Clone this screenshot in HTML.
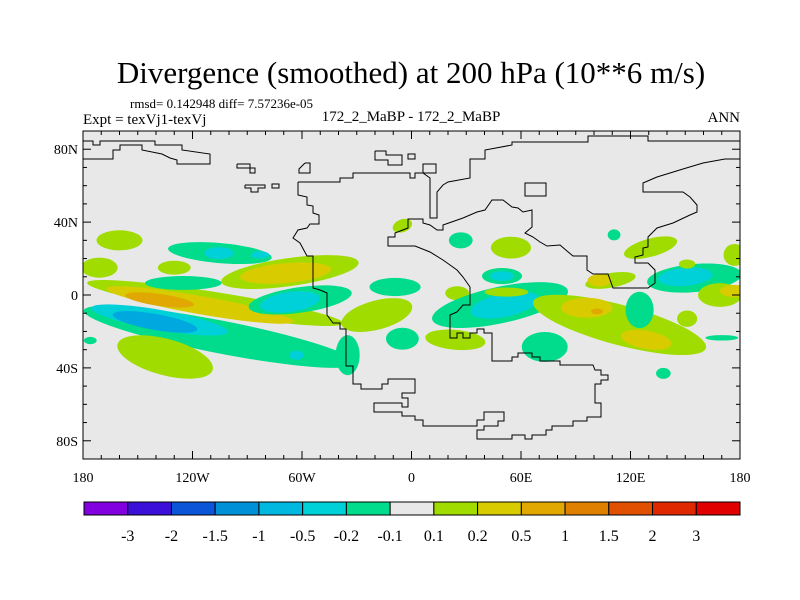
<!DOCTYPE html>
<html><head><meta charset="utf-8"><style>
body{margin:0;background:#fff;}
svg{display:block;font-family:"Liberation Serif",serif;}
</style></head><body>
<svg id="chart" width="800" height="600" viewBox="0 0 800 600">
<rect width="800" height="600" fill="#fff"/>
<text x="411" y="83" font-size="31" text-anchor="middle">Divergence (smoothed) at 200 hPa (10**6 m/s)</text>
<text x="130" y="108" font-size="13">rmsd= 0.142948 diff= 7.57236e-05</text>
<text x="83" y="124" font-size="15">Expt = texVj1-texVj</text>
<text x="411" y="121" font-size="15" text-anchor="middle">172_2_MaBP - 172_2_MaBP</text>
<text x="740" y="122" font-size="15" text-anchor="end">ANN</text>
<defs><clipPath id="pc"><rect x="83" y="131" width="657" height="328"/></clipPath></defs>
<rect x="83" y="131" width="657" height="328" fill="#e8e8e8"/>
<g id="blobs" clip-path="url(#pc)"></g>
<g clip-path="url(#pc)" fill="none" stroke="#000" stroke-width="1">
<polyline points="298,182 298,195 307,197 307,205 313,206 313,213 319,215 319,224 310,224 307,228 298,230 293,238 300,243 307,256 313,256 313,288 320,290 327,293 327,315 333,323 340,323 340,329 346,329 346,366 353,366 353,384 361,384 361,389 382,389 382,384 388,384 388,379 415,379 415,393 402,393 402,398 408,398 408,407 402,407 402,403 374,403 374,412 402,412 402,416 415,416 415,420 423,420 423,426 477,426 477,420 484,420 484,412 504,412 504,421 498,421 498,426 484,426 484,430 477,430 477,439 512,439 512,435 525,435 525,439 532,439 532,435 546,435 546,430 552,430 552,426 573,426 573,421 587,421 587,417 601,417 601,403 595,403 595,384 601,384 601,380 608,380 608,375 601,375 601,370 595,370 593,365 560,365 560,361 540,361 540,357 532,357 532,353 518,353 518,357 512,357 512,361 492,361 492,333 484,333 484,329 477,329 477,333 470,333 470,338 463,338 463,333 457,333 457,338 450,338 450,315 457,312 463,305 470,305 470,287 463,277 457,270 443,260 430,252 415,246 388,246 388,237 395,237 395,233 408,228 408,219 423,219 423,223 430,225 437,230 443,230 443,225 463,218 477,212 485,210 492,200 503,200 512,207 518,208 523,212 532,210 532,227 525,233 533,237 540,242 547,246 560,245 567,251 573,256 587,256 587,270 593,274 608,274 613,288 648,288 655,283 655,270 648,263 635,263 635,257 643,255 643,248 648,247 648,237 657,228 673,223 690,215 697,212 697,205 690,197 683,192 643,192 643,183 657,177 683,169 703,163 725,159 740,159"/>
<polyline points="298,182 340,182 340,178 353,178 353,173 410,173 410,178 415,178 415,173 423,173 430,178 430,218 437,218 437,192 443,185 448,182 470,178 470,159 485,159 485,150 512,145 512,142 588,142 588,136 648,136 648,141 740,141"/>
<polyline points="83,141 93,141 93,145 100,145 100,141 155,141 155,145 182,145 182,150 210,154 210,164 177,164 177,160 170,158 162,154 142,150 142,145 120,145 120,150 113,150 113,159 83,159"/>
<rect x="525" y="183" width="21" height="13"/>
<polyline points="375,151 386,151 386,155 402,155 402,165 388,165 388,160 375,160 375,151"/>
<rect x="408" y="154" width="7" height="5"/>
<rect x="423" y="164" width="13" height="9"/>
<polyline points="237,164 250,164 250,168 255,168 255,173 250,173 250,168 237,168 237,164"/>
<polyline points="245,185 265,185 265,188 258,188 258,192 251,192 251,188 245,188 245,185"/>
<rect x="272" y="184" width="7" height="4"/>
<polyline points="305,163 310,163 310,173 299,173 299,169 305,163"/>
</g>
<rect x="83" y="131" width="657" height="328" fill="none" stroke="#000" stroke-width="1"/>
<g id="ticks" stroke="#000" stroke-width="1"></g>
<g id="labels" font-size="14"></g>
<g id="colorbar"></g>
</svg>
<script>
const levelKeys=[-3,-2,-1,1,2,3];
const levelColors=["#00a8e0","#00d0d8","#00dc8c","#a0dc00","#d8cc00","#e0a800"];
// blob data: lon, lat, rx(deg), ry(deg), rotation, level
const blobLon=[-105,-35,-138,-140.5,-107.6,-116,-138,-135,-160,-171,-105,-105.5,-83,-125,-130,-66.6,-69,-61,-66.6,-9,-19,-5,25,24,48.5,51,49.6,49.6,52,54.5,114,96,101.6,128.6,73,155,125,150,169,177,151,170,138,177,131,151,109,103,111,27,-5,-176,-63];
const blobLat=[-23,-33,-13.7,-14.8,-4.4,-5.5,-2.7,-34,30,15,23,23,22,6.6,15,12.6,12,-2.7,-3.8,4.4,-11,-24,1,-24.6,-5.5,-5.5,10.4,10.4,1.6,26,-16.4,-7,-9,-24.6,-28.5,9.3,-8.2,10,0,2.2,-13,-23.5,-43,22,26,17,8,8,33,30,38,-25,-33];
const blobRx=[76,6.6,38,23.5,71,52,19,27,12.6,10,28.5,8,5,21,9,38,25,28.5,16.5,14,20,9,6.5,16.5,38,19,11,6.5,12,11,49,14,3.3,14,12.6,26,7.7,15,12,8,5.5,9,4,6,15,4.5,14,6.5,3.5,6.5,5.5,3.5,4];
const blobRy=[9,11,5.5,4.4,6,5,3.3,10,5.5,5.5,5.5,3.3,2,3.8,3.8,7.7,5.5,7,5.5,5,8,6,3.8,5.5,10,6.5,4.4,2.7,2.5,6,11,5.5,1.6,5,8.2,7.7,10,5,6.5,3.3,4.5,1.5,3,6,5,2.5,4,3.3,3,4.4,3.5,2,2.5];
const blobRot=[11,0,10,10,9,10,8,15,0,0,5,0,0,0,0,-8,-5,-8,-8,0,-15,0,0,5,-12,-12,0,0,0,0,15,0,0,10,0,-5,0,-5,0,0,0,0,0,0,-15,0,-10,0,0,0,-20,0,0];
const blobLevel=[-1,-1,-2,-3,1,2,3,1,1,1,-1,-2,-2,-1,1,1,2,-1,-2,-1,1,-1,1,1,-1,-2,-1,-2,1,1,1,2,3,2,-1,-1,-1,-2,1,2,1,-1,-1,1,1,1,1,2,-1,-1,1,-1,-2];
const barLabels=["-3","-2","-1.5","-1","-0.5","-0.2","-0.1","0.1","0.2","0.5","1","1.5","2","3"];
const barColors=["#8200e0","#3c10d8","#0a55d8","#0090d8","#00b8e0","#00d0d8","#00dc8c","#e8e8e8","#a0dc00","#d8cc00","#e0a800","#e08000","#e05000","#e02800","#e00000"];
const latTicks=[80,40,0,-40,-80];
const latTickLabels=["80N","40N","0","40S","80S"];
const lonTicks=[-180,-120,-60,0,60,120,180];
const lonTickLabels=["180","120W","60W","0","60E","120E","180"];

const NS="http://www.w3.org/2000/svg";
const X0=83,X1=740,Y0=131,Y1=459;
const kx=(X1-X0)/360, ky=(Y1-Y0)/180;
const xS=lon=>X0+(lon+180)*kx;
const yS=lat=>Y0+(90-lat)*ky;
function mk(tag,attrs,parent){const e=document.createElementNS(NS,tag);for(const k in attrs)e.setAttribute(k,attrs[k]);parent.appendChild(e);return e;}

const gb=document.getElementById('blobs');
for(let i=0;i<blobLon.length;i++){
  const cx=xS(blobLon[i]),cy=yS(blobLat[i]);
  const e=mk('ellipse',{cx:cx,cy:cy,rx:blobRx[i]*kx,ry:blobRy[i]*ky,transform:`rotate(${blobRot[i]} ${cx} ${cy})`,fill:levelColors[levelKeys.indexOf(blobLevel[i])]},gb);
  
  
}
const gt=document.getElementById('ticks');
for(let lat=-80;lat<=80;lat+=10){
  const y=yS(lat), major=latTicks.includes(lat)?8:4;
  const a=mk('line',{x1:X0,x2:X0+major,y1:y,y2:y},gt);
  
  
  const b=mk('line',{x1:X1,x2:X1-major,y1:y,y2:y},gt);
  
  
}
for(let lon=-170;lon<=170;lon+=10){
  const x=xS(lon), major=(lon%60===0)?8:4;
  const a=mk('line',{x1:x,x2:x,y1:Y0,y2:Y0+major},gt);
  
  
  const b=mk('line',{x1:x,x2:x,y1:Y1,y2:Y1-major},gt);
  
  
}
const gl=document.getElementById('labels');
latTicks.forEach((lat,i)=>{
  const t=mk('text',{x:X0-5,y:yS(lat)+5,'text-anchor':'end'},gl);
  t.textContent=latTickLabels[i];
  
  
});
lonTicks.forEach((lon,i)=>{
  const t=mk('text',{x:xS(lon),y:482,'text-anchor':'middle'},gl);
  t.textContent=lonTickLabels[i];
  
  
});
const gc=document.getElementById('colorbar');
const cbX0=84,cbX1=740,cbY=502,cbH=13,bw=(cbX1-cbX0)/barColors.length;
barColors.forEach((c,i)=>{
  const r=mk('rect',{x:cbX0+i*bw,y:cbY,width:bw,height:cbH,fill:c,stroke:'#000','stroke-width':1},gc);
  
  
});
barLabels.forEach((l,i)=>{
  const t=mk('text',{x:cbX0+(i+1)*bw,y:541,'text-anchor':'middle','font-size':16},gc);
  t.textContent=l;
  
  
});
</script>
</body></html>
